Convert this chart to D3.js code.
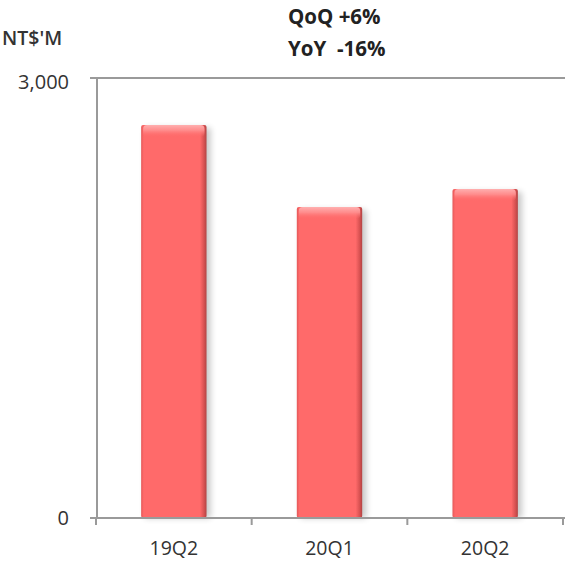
<!DOCTYPE html>
<html>
<head>
<meta charset="utf-8">
<script src="https://cdn.jsdelivr.net/npm/d3@7"></script>
<style>
  html, body { margin: 0; padding: 0; background: #fff; }
  svg { display: block; }
  text { font-family: "Open Sans", Lato, "Liberation Sans", sans-serif; }
</style>
</head>
<body>
<div id="chart"></div>
<script>
// Quarterly revenue, NT$ millions
const categories = ["19Q2", "20Q1", "20Q2"];
const revenue = [2680, 2120, 2243];
const yTicks = [0, 3000];
const unitLabel = "NT$'M";
const headline = ["QoQ +6%", "YoY\u00a0\u00a0-16%"];

const W = 570, H = 564;
const svg = d3.select("#chart").append("svg")
  .attr("width", W).attr("height", H);

const x = d3.scaleBand().domain(categories).range([96, 563])
  .paddingInner(0.58).paddingOuter(0.29);
const y = d3.scaleLinear().domain([0, 3000]).range([518, 78]);

const defs = svg.append("defs");
const bodyGrad = defs.append("linearGradient").attr("id", "barBody")
  .attr("x1", "0%").attr("x2", "100%").attr("y1", "0%").attr("y2", "0%");
[["0%", "#e45858"], ["4%", "#ff6a6a"], ["90%", "#ff6a6a"], ["96%", "#d85252"], ["100%", "#b24444"]]
  .forEach(([o, c]) => bodyGrad.append("stop").attr("offset", o).attr("stop-color", c));
const capGrad = defs.append("linearGradient").attr("id", "barTop")
  .attr("x1", "0%").attr("x2", "0%").attr("y1", "0%").attr("y2", "100%");
[["0%", "#ffb0b0", 1], ["45%", "#ff9090", 0.9], ["100%", "#ff6a6a", 0]]
  .forEach(([o, c, a]) => capGrad.append("stop").attr("offset", o).attr("stop-color", c).attr("stop-opacity", a));
defs.append("filter").attr("id", "soft").attr("x", "-20%").attr("y", "-5%").attr("width", "140%").attr("height", "110%")
  .append("feGaussianBlur").attr("stdDeviation", 3);

const baseY = y(0);
const axisColor = "#9a9a9a";

// top reference line at the axis maximum
svg.append("line")
  .attr("x1", 90).attr("x2", 565).attr("y1", y(3000)).attr("y2", y(3000))
  .attr("stroke", axisColor).attr("stroke-width", 2);

// bars
const g = svg.append("g");
const bars = g.selectAll("g.bar").data(categories.map((c, i) => ({ c, v: revenue[i] })))
  .join("g").attr("class", "bar");
bars.append("rect")
  .attr("x", d => x(d.c) + 4).attr("y", d => y(d.v) + 3)
  .attr("width", x.bandwidth()).attr("height", d => baseY - y(d.v) - 3)
  .attr("fill", "#000").attr("opacity", 0.22).attr("filter", "url(#soft)");
bars.append("rect")
  .attr("x", d => x(d.c)).attr("y", d => y(d.v))
  .attr("width", x.bandwidth()).attr("height", d => baseY - y(d.v))
  .attr("rx", 2)
  .attr("fill", "url(#barBody)");
bars.append("rect")
  .attr("x", d => x(d.c) + 2).attr("y", d => y(d.v))
  .attr("width", x.bandwidth() - 4).attr("height", 12)
  .attr("rx", 4)
  .attr("fill", "url(#barTop)");

// y axis
svg.append("line")
  .attr("x1", 97).attr("x2", 97).attr("y1", y(3000)).attr("y2", baseY)
  .attr("stroke", axisColor).attr("stroke-width", 2);
svg.append("line")
  .attr("x1", 90).attr("x2", 565).attr("y1", baseY).attr("y2", baseY)
  .attr("stroke", axisColor).attr("stroke-width", 2);
svg.selectAll("text.ytick").data(yTicks).join("text").attr("class", "ytick")
  .attr("x", 69).attr("y", d => y(d) + (d === 0 ? 0 : 4))
  .attr("dy", "0.35em").attr("text-anchor", "end")
  .attr("font-size", 20).attr("fill", "#333")
  .text(d => d3.format(",")(d));

// category separators
const step = x.step();
const x0 = x.range()[0];
svg.selectAll("line.sep").data(d3.range(categories.length + 1)).join("line").attr("class", "sep")
  .attr("x1", i => x0 + i * step).attr("x2", i => x0 + i * step)
  .attr("y1", baseY).attr("y2", baseY + 7)
  .attr("stroke", axisColor).attr("stroke-width", 2);
svg.selectAll("text.cat").data(categories).join("text").attr("class", "cat")
  .attr("x", d => x(d) + x.bandwidth() / 2).attr("y", 548)
  .attr("dy", "0.35em").attr("text-anchor", "middle")
  .attr("font-size", 19.5).attr("fill", "#333")
  .text(d => d);

// unit and headline
svg.append("text").attr("x", 2).attr("y", 38).attr("dy", "0.35em")
  .attr("font-size", 19.5).attr("font-weight", 600).attr("fill", "#333")
  .text(unitLabel);
svg.selectAll("text.head").data(headline).join("text").attr("class", "head")
  .attr("x", 288).attr("y", (d, i) => 17 + i * 32).attr("dy", "0.35em")
  .attr("font-size", 20.5).attr("font-weight", "bold").attr("fill", "#222")
  .text(d => d);
</script>
</body>
</html>
